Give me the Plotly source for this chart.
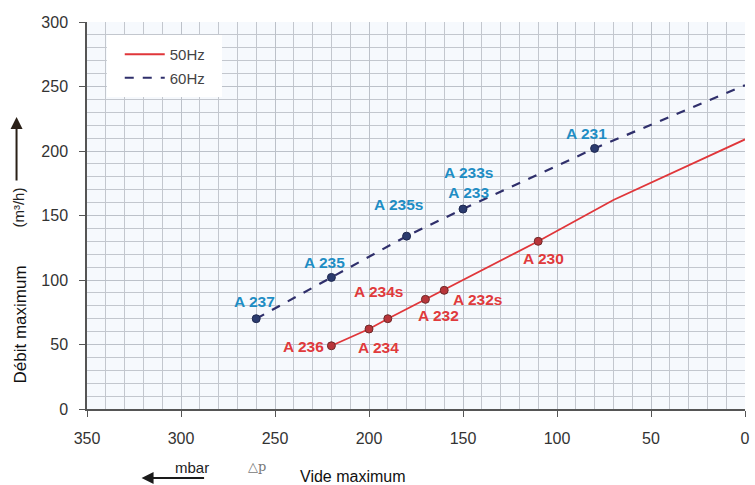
import plotly.graph_objects as go

# ---- data ----
# 60 Hz curve
hz60_x = [260, 220, 180, 150, 80, 0]
hz60_y = [70, 102, 134, 155, 202, 251]
# 60 Hz model points
m60_x = [260, 220, 180, 150, 80]
m60_y = [70, 102, 134, 155, 202]
m60_lab = ["A 237", "A 235", "A 235s", "A 233s<br>A 233", "A 231"]

# 50 Hz curve
hz50_x = [220, 200, 190, 170, 160, 110, 70, 0]
hz50_y = [49, 62, 70, 85, 92, 130, 162, 209]
# 50 Hz model points
m50_x = [220, 200, 190, 170, 160, 110]
m50_y = [49, 62, 70, 85, 92, 130]
m50_lab = ["A 236", "A 234", "A 234s", "A 232", "A 232s", "A 230"]

x_ticks = [350, 300, 250, 200, 150, 100, 50, 0]
y_ticks = [0, 50, 100, 150, 200, 250, 300]

# ---- styles ----
RED_LINE = "#e0363a"
RED_MK = "#b8353a"
RED_TXT = "#e03a3c"
BLUE_LINE = "#2f2f6b"
BLUE_MK = "#2b3b6e"
BLUE_TXT = "#1f8dc4"
FONT = "Liberation Sans, Arial, sans-serif"

# label pixel offsets (xshift, yshift)
off60 = [(-2, 17), (-7, 15), (-8, 32), (5, 27), (-8, 15)]
off50 = [(-28, -1), (9, -18), (-9, 27), (13, -16), (33, -9), (5, -17)]

fig = go.Figure()
fig.add_trace(go.Scatter(x=hz50_x, y=hz50_y, mode="lines", name="50Hz", legendgroup="a",
                         line=dict(color=RED_LINE, width=1.8)))
fig.add_trace(go.Scatter(x=hz60_x, y=hz60_y, mode="lines", name="60Hz", legendgroup="b",
                         line=dict(color=BLUE_LINE, width=2.2, dash="dash")))
fig.add_trace(go.Scatter(x=m50_x, y=m50_y, mode="markers", showlegend=False,
                         marker=dict(color=RED_MK, size=8, line=dict(color="#6e2a2a", width=1))))
fig.add_trace(go.Scatter(x=m60_x, y=m60_y, mode="markers", showlegend=False,
                         marker=dict(color=BLUE_MK, size=8, line=dict(color="#1e2850", width=1))))

ann = []
for x, y, t, (dx, dy) in zip(m60_x, m60_y, m60_lab, off60):
    ann.append(dict(x=x, y=y, text="<b>%s</b>" % t, showarrow=False, xshift=dx, yshift=dy,
                    font=dict(family=FONT, size=15.5, color=BLUE_TXT)))
for x, y, t, (dx, dy) in zip(m50_x, m50_y, m50_lab, off50):
    ann.append(dict(x=x, y=y, text="<b>%s</b>" % t, showarrow=False, xshift=dx, yshift=dy,
                    font=dict(family=FONT, size=15.5, color=RED_TXT)))

W, H = 755, 485
L, R, T, B = 87, 5, 22, 76
pw, ph = W - L - R, H - T - B


def px(xp):
    return (xp - L) / pw


def py(yp):
    return (H - B - yp) / ph


def ptext(x, y, text, size, color, family=FONT, angle=0):
    return dict(xref="paper", yref="paper", x=px(x), y=py(y), text=text, textangle=angle,
                xanchor="center", yanchor="middle", showarrow=False,
                font=dict(family=family, size=size, color=color))


ann += [
    ptext(19, 325, "Débit maximum", 17, "#111", angle=-90),
    ptext(17, 208, "(m³/h)", 15, "#222", angle=-90),
    dict(xref="paper", yref="paper", x=px(16), y=py(117), ax=0, ay=65,
         axref="pixel", ayref="pixel", text="", showarrow=True, arrowhead=2, arrowsize=1.2,
         arrowwidth=2, arrowcolor="#2a2018"),
    dict(xref="paper", yref="paper", x=px(142), y=py(478), ax=64, ay=0,
         axref="pixel", ayref="pixel", text="", showarrow=True, arrowhead=2, arrowsize=1.2,
         arrowwidth=2, arrowcolor="#1a1a1a"),
    ptext(193, 467, "mbar", 15, "#222"),
    ptext(258, 466, "△p", 13, "#777", family="DejaVu Serif, serif"),
    ptext(355, 476, "Vide maximum", 16, "#111"),
]

grid = dict(showgrid=True, gridcolor="#bcc1c9", gridwidth=1,
            minor=dict(dtick=10, showgrid=True, gridcolor="#c3c7ce", gridwidth=1))

legend_box = dict(type="rect", xref="paper", yref="paper", layer="above",
                  x0=px(107), x1=px(223), y0=py(97), y1=py(35),
                  fillcolor="white", line=dict(width=0))

fig.update_layout(
    width=W, height=H,
    margin=dict(l=L, r=R, t=T, b=B),
    paper_bgcolor="white",
    plot_bgcolor="#f6f9fd",
    font=dict(family=FONT, size=16, color="#333"),
    showlegend=True,
    shapes=[legend_box],
    legend=dict(x=px(120), y=py(38), xanchor="left", yanchor="top",
                bgcolor="rgba(0,0,0,0)",
                font=dict(family=FONT, size=15, color="#444"), itemwidth=40,
                traceorder="grouped", tracegroupgap=1, borderwidth=0),
    annotations=ann,
    xaxis=dict(range=[350, 0], tickvals=x_ticks, ticks="outside", ticklen=6,
               tickcolor="#555", showline=True, linecolor="#555", linewidth=1.5,
               zeroline=False, ticklabelstandoff=8, tickfont=dict(size=16, color="#333"),
               **grid),
    yaxis=dict(range=[0, 300], tickvals=y_ticks, ticks="outside", ticklen=6,
               tickcolor="#555", showline=True, linecolor="#555", linewidth=1.5,
               zeroline=False, ticklabelstandoff=8, tickfont=dict(size=16, color="#333"),
               **grid),
)

fig.write_html("out.html", config={"displayModeBar": False},
               post_script="document.body.style.margin='0';document.body.style.overflow='hidden';")
